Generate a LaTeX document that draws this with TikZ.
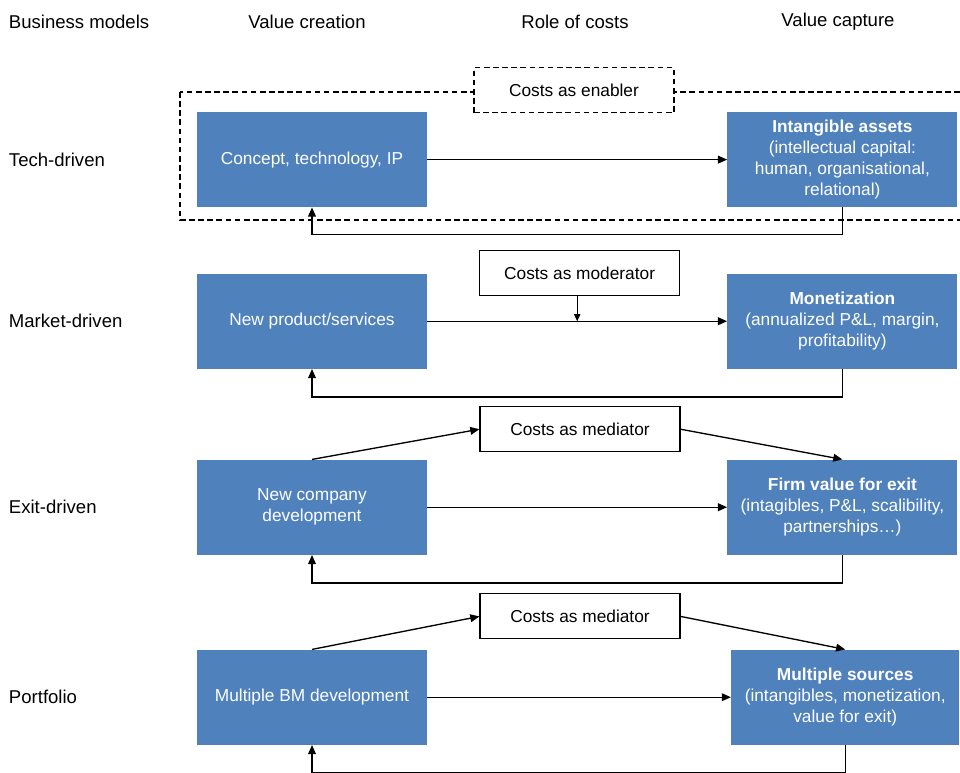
\documentclass[tikz,border=0pt]{standalone}
\usepackage{fontspec}
\setmainfont{Liberation Sans}
\usetikzlibrary{arrows.meta,positioning}
\definecolor{boxblue}{HTML}{4F81BD}

\tikzset{
  valuebox/.style={fill=boxblue, text=white, minimum width=5.75cm, minimum height=2.375cm,
    align=center, inner sep=2pt, font=\fontsize{12.3}{15}\selectfont},
  costbox/.style={draw, line width=0.8pt, fill=white, minimum width=5cm, minimum height=1.125cm,
    font=\fontsize{12.3}{15}\selectfont},
  headlabel/.style={font=\fontsize{13.2}{16}\selectfont},
  flow/.style={-{Triangle[length=6.5pt,width=5.5pt]}, line width=0.95pt},
}

\begin{document}
\begin{tikzpicture}
	\useasboundingbox (0,0) rectangle (24,-19.3);

	% Column headers
	\node[headlabel, anchor=west] (hbm) at (0.1,-0.55) {Business models};
	\node[headlabel] (hcreate) at (7.675,-0.55) {Value creation};
	\node[headlabel] (hcost) at (14.375,-0.55) {Role of costs};
	\node[headlabel] (hcapture) at (20.95,-0.55) {Value capture};

	% Row labels
	\node[headlabel, anchor=west] (ltech) at (0.1,-3.99) {Tech-driven};
	\node[headlabel, anchor=west] (lmarket) at (0.1,-8.03) {Market-driven};
	\node[headlabel, anchor=west] (lexit) at (0.1,-12.68) {Exit-driven};
	\node[headlabel, anchor=west] (lport) at (0.1,-17.43) {Portfolio};

	% Tech-driven
	\draw[line width=0.8pt, dash pattern=on 4pt off 2.5pt] (4.5,-2.3) rectangle (24.3,-5.5);
	\node[costbox, dash pattern=on 4pt off 2.5pt] (enabler) at (14.35,-2.26) {Costs as enabler};
	\node[valuebox] (techL) at (7.8,-3.99) {Concept, technology, IP};
	\node[valuebox] (techR) at (21.06,-3.99) {\textbf{Intangible assets}\\(intellectual capital:\\human, organisational,\\relational)};
	\draw[flow] (techL) -- (techR);
	\draw[flow] (techR.south) -- ++(0,-0.68) -| (techL.south);

	% Market-driven
	\node[costbox] (moderator) at (14.49,-6.83) {Costs as moderator};
	\node[valuebox] (marketL) at (7.8,-8.03) {New product/services};
	\node[valuebox] (marketR) at (21.06,-8.03) {\textbf{Monetization}\\(annualized P\&L, margin,\\profitability)};
	\draw[flow] (marketL) -- coordinate[pos=0.5] (modpt) (marketR);
	\draw[-{Triangle[length=5pt,width=4.5pt]}, line width=0.7pt] (moderator.south -| modpt) -- (modpt);
	\draw[flow] (marketR.south) -- ++(0,-0.7) -| (marketL.south);

	% Exit-driven
	\node[costbox] (mediatorA) at (14.5,-10.73) {Costs as mediator};
	\node[valuebox] (exitL) at (7.8,-12.68) {New company\\development};
	\node[valuebox] (exitR) at (21.06,-12.68) {\textbf{Firm value for exit}\\(intagibles, P\&L, scalibility,\\partnerships…)};
	\draw[flow] (exitL) -- (exitR);
	\draw[flow] (exitL.north) -- (mediatorA.west);
	\draw[flow] (mediatorA.east) -- (exitR.north);
	\draw[flow] (exitR.south) -- ++(0,-0.7) -| (exitL.south);

	% Portfolio
	\node[costbox] (mediatorB) at (14.5,-15.41) {Costs as mediator};
	\node[valuebox] (portL) at (7.8,-17.43) {Multiple BM development};
	\node[valuebox, minimum width=5.7cm] (portR) at (21.13,-17.43) {\textbf{Multiple sources}\\(intangibles, monetization,\\value for exit)};
	\draw[flow] (portL) -- (portR);
	\draw[flow] (portL.north) -- (mediatorB.west);
	\draw[flow] (mediatorB.east) -- (portR.north);
	\draw[flow] (portR.south) -- ++(0,-0.7) -| (portL.south);

\end{tikzpicture}
\end{document}
